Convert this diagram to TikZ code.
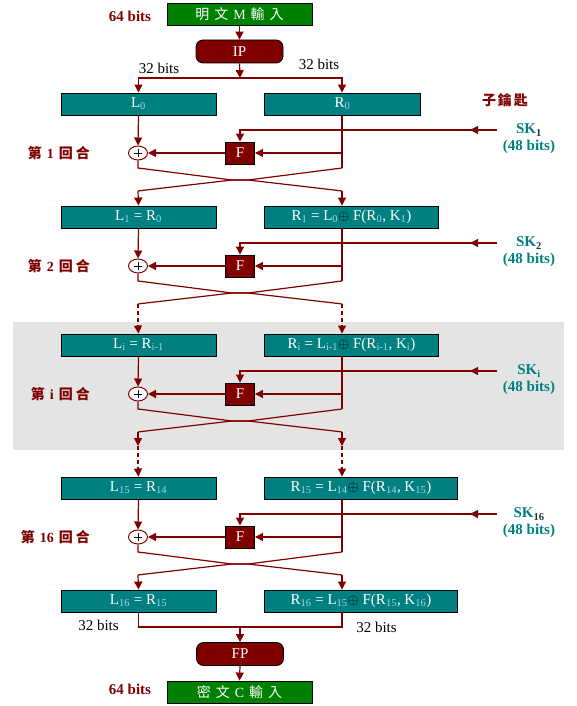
\documentclass[tikz,border=0pt]{standalone}
\usepackage{fontspec}
\setmainfont{Liberation Serif}
\newfontfamily\cjk{Noto Sans CJK TC}
\usetikzlibrary{arrows.meta,shapes.geometric}
\definecolor{maroonc}{RGB}{128,0,0}
\definecolor{tealc}{RGB}{0,128,128}
\definecolor{greenc}{RGB}{0,128,0}
\definecolor{bggray}{RGB}{228,228,228}
\definecolor{subc}{RGB}{165,215,225}
\definecolor{skdark}{RGB}{20,60,45}
\newcommand\mysub[1]{\textsubscript{\color{subc}#1}}
\newcommand\myxor{{\color{black}$\oplus$}}
\newcommand\roundparts[6]{%
  \node[xorn] (x#1) at (138,#2+60) {};
  \draw[black,line width=0.8pt] (x#1.center) ++(-4,0) -- ++(8,0);
  \draw[black,line width=0.8pt] (x#1.center) ++(0,-3.6) -- ++(0,7.2);
  \node[fbox] (f#1) at (240,#2+60) {F};
  \node[rlabel] (lab#1) at (90,#2+60) {#5};
  \node[sktext] (sk#1) at (529,#2+37) {SK#6};
  \node[sktext] (skb#1) at (529,#2+54) {(48 bits)};
  \coordinate (skin#1) at (497,#2+37);
  \coordinate (rtap#1) at (342,#2+60);
  \coordinate (rend#1) at (342,#2+75);
  \coordinate (lend#1) at (138,#2+75);
  \coordinate (cl#1) at (232,#2+87);
  \coordinate (cr#1) at (248,#2+87);
  \coordinate (bl#1) at (138,#2+98);
  \coordinate (br#1) at (342,#2+98);
  \draw[arr] (#3.south) -- (x#1.north);
  \draw[conn] (#4.south -| rend#1) -- (rend#1);
  \draw[arr] (rtap#1) -- (f#1.east);
  \draw[arr] (f#1.west) -- (x#1.east);
  \draw[arr] (skin#1) -- ++(-27,0);
  \draw[arr] (skin#1) -| (f#1.north);
  \draw[conn] (x#1.south) -- (lend#1) -- ++(8,1) -- (cl#1) -- (cr#1) -- ([xshift=-8pt,yshift=1pt]br#1) -- (br#1);
  \draw[conn] (rend#1) -- ++(-8,1) -- (cr#1) -- (cl#1) -- ([xshift=8pt,yshift=1pt]bl#1) -- (bl#1);
}
\begin{document}
\begin{tikzpicture}[x=1pt,y=-1pt,
  conn/.style={draw=maroonc,line width=1.2pt},
  arr/.style={conn,-{Triangle[width=8pt,length=8pt]}},
  dashconn/.style={conn,dash pattern=on 4pt off 3pt},
  tbox/.style={draw=black,fill=tealc,text=white,minimum height=22pt,inner sep=0pt,
    line width=0.9pt,font=\fontsize{15}{18}\selectfont},
  lbox/.style={tbox,minimum width=155pt},
  rbox/.style={tbox,anchor=west,minimum width=#1},
  gbox/.style={draw=black,fill=greenc,text=white,minimum width=145pt,minimum height=22pt,
    inner sep=0pt,line width=0.9pt,font=\fontsize{14}{16}\selectfont},
  pill/.style={draw=black,fill=maroonc,text=white,rounded corners=7pt,minimum width=87pt,
    minimum height=23pt,inner sep=0pt,line width=0.8pt,font=\fontsize{15}{18}\selectfont},
  fbox/.style={draw=black,fill=maroonc,text=white,minimum width=29pt,minimum height=22pt,
    inner sep=0pt,line width=0.9pt,font=\fontsize{15}{18}\selectfont},
  xorn/.style={ellipse,draw=maroonc,fill=white,minimum width=19pt,minimum height=14pt,
    inner sep=0pt,line width=1pt},
  rlabel/.style={anchor=east,text=maroonc,inner sep=0pt,font=\fontsize{14}{16}\selectfont\bfseries},
  sktext/.style={text=tealc,inner sep=0pt,font=\fontsize{15}{17}\selectfont\bfseries},
  bitlbl/.style={text=maroonc,inner sep=0pt,font=\fontsize{15}{17}\selectfont\bfseries},
  plainlbl/.style={text=black,inner sep=0pt,font=\fontsize{15}{17}\selectfont}
]
\useasboundingbox (0,0) rectangle (576,706);
\fill[white] (0,0) rectangle (576,706);
\fill[bggray] (13,322) rectangle (564,450);

% top
\node[gbox] (in) at (239.5,14) {{\cjk 明}\hspace{5pt}{\cjk 文}\hspace{5pt}M\hspace{5pt}{\cjk 輸}\hspace{5pt}{\cjk 入}};
\node[bitlbl] (b64a) at (130,16) {64 bits};
\node[pill] (ip) at (239.5,51.5) {IP};
\coordinate (ipsplit) at (240,78);
\coordinate (colR) at (342,0);
\node[plainlbl] (b32a) at (159,68) {32 bits};
\node[plainlbl] (b32b) at (319,64) {32 bits};
\node[text=maroonc,inner sep=0pt,font=\fontsize{14}{16}\selectfont\bfseries] (subkey) at (505,100)
  {{\cjk 子}\hspace{2pt}{\cjk 鑰}\hspace{2pt}{\cjk 匙}};

% boxes
\node[lbox] (L0) at (138.5,104) {L\mysub{0}};
\node[rbox=156pt] (R0) at (264,104) {R\mysub{0}};
\node[lbox] (L1) at (138.5,217) {L\mysub{1} = R\mysub{0}};
\node[rbox=174pt] (R1) at (264,217) {R\mysub{1} = L\mysub{0}\myxor\ F(R\mysub{0}, K\mysub{1})};
\node[lbox] (Li) at (138.5,345) {L\mysub{i} = R\mysub{i-1}};
\node[rbox=174pt] (Ri) at (264,345) {R\mysub{i} = L\mysub{i-1}\myxor\ F(R\mysub{i-1}, K\mysub{i})};
\node[lbox] (L15) at (138.5,488) {L\mysub{15} = R\mysub{14}};
\node[rbox=193pt] (R15) at (264,488) {R\mysub{15} = L\mysub{14}\myxor\ F(R\mysub{14}, K\mysub{15})};
\node[lbox] (L16) at (138.5,601) {L\mysub{16} = R\mysub{15}};
\node[rbox=193pt] (R16) at (264,601) {R\mysub{16} = L\mysub{15}\myxor\ F(R\mysub{15}, K\mysub{16})};

% top connectors
\draw[arr] (in.south) -- (ip.north);
\draw[arr] (ip.south) -- (ipsplit);
\draw[arr] (ipsplit) -| (L0.north);
\draw[arr] (ipsplit) -| (R0.north -| colR);

% rounds
\roundparts{1}{93}{L0}{R0}{{\cjk 第}\hspace{5pt}1\hspace{5pt}{\cjk 回}\hspace{3pt}{\cjk 合}}{\textsubscript{\color{skdark}1}}
\roundparts{2}{206}{L1}{R1}{{\cjk 第}\hspace{5pt}2\hspace{5pt}{\cjk 回}\hspace{3pt}{\cjk 合}}{\textsubscript{\color{skdark}2}}
\roundparts{i}{334}{Li}{Ri}{{\cjk 第}\hspace{5pt}i\hspace{5pt}{\cjk 回}\hspace{3pt}{\cjk 合}}{\textsubscript{i}}
\roundparts{16}{477}{L15}{R15}{{\cjk 第}\hspace{5pt}16\hspace{5pt}{\cjk 回}\hspace{3pt}{\cjk 合}}{\textsubscript{\color{skdark}16}}

% between rounds
\draw[arr] (bl1) -- (L1.north);
\draw[arr] (br1) -- (R1.north -| br1);
\coordinate (dl2) at (138,326);
\coordinate (dr2) at (342,326);
\draw[dashconn] (bl2) -- (dl2);
\draw[dashconn] (br2) -- (dr2);
\draw[arr] (dl2) -- (Li.north);
\draw[arr] (dr2) -- (Ri.north -| dr2);
\coordinate (al) at (138,446);
\coordinate (ar) at (342,446);
\coordinate (el) at (138,469);
\coordinate (er) at (342,469);
\draw[arr] (bli) -- (al);
\draw[arr] (bri) -- (ar);
\draw[dashconn] (al) -- (el);
\draw[dashconn] (ar) -- (er);
\draw[arr] (el) -- (L15.north);
\draw[arr] (er) -- (R15.north -| er);
\draw[arr] (bl16) -- (L16.north);
\draw[arr] (br16) -- (R16.north -| br16);

% bottom
\coordinate (merge) at (240,627);
\node[pill] (fp) at (240,654) {FP};
\node[gbox] (out) at (239.5,692) {{\cjk 密}\hspace{5pt}{\cjk 文}\hspace{5pt}C\hspace{5pt}{\cjk 輸}\hspace{5pt}{\cjk 入}};
\node[bitlbl] (b64b) at (130,689) {64 bits};
\node[plainlbl] (b32c) at (98.5,625) {32 bits};
\node[plainlbl] (b32d) at (376.5,627) {32 bits};
\draw[conn] (L16.south) |- (merge) -| (R16.south -| colR);
\draw[arr] (merge) -- (fp.north);
\draw[arr] (fp.south) -- (out.north);
\end{tikzpicture}
\end{document}
